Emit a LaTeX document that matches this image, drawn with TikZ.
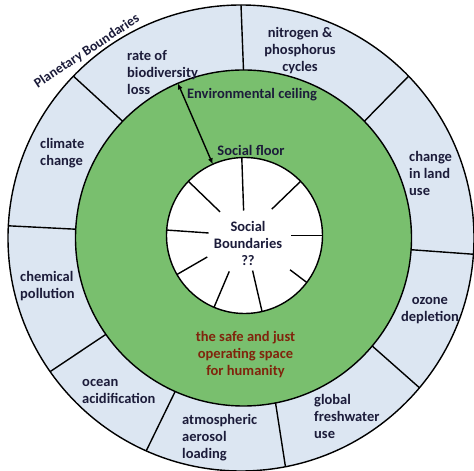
\documentclass[tikz,border=0pt]{standalone}
\usepackage{fontspec}
\setmainfont{Carlito}
\usetikzlibrary{arrows.meta}
\definecolor{ringblue}{RGB}{220,230,242}
\definecolor{floorgreen}{RGB}{121,191,110}
\definecolor{labelink}{RGB}{28,28,58}
\definecolor{spacered}{RGB}{128,36,12}
\tikzstyle{ring} = [circle, draw, line width=1.4pt, inner sep=0pt, outer sep=0pt]
\tikzstyle{pb} = [text=labelink, font=\bfseries\fontsize{14.5}{17}\selectfont, inner sep=0pt]
\tikzstyle{pbl} = [pb, align=left, anchor=west]
\tikzstyle{pbc} = [pb, align=center]
\tikzstyle{cut} = [line width=1.4pt]

\begin{document}
\begin{tikzpicture}[x=1pt,y=1pt]
  \useasboundingbox (0,0) rectangle (474,471);

  % the three rings
  \node[ring, fill=ringblue, minimum size=466pt] (outer) at (241,233) {};
  \node[ring, fill=floorgreen, minimum size=336pt] (green) at (243.5,233) {};
  \node[ring, fill=white, minimum size=156pt] (white) at (244.5,235.5) {};

  % planetary boundaries
  \draw[cut] (green.90) -- (outer.90);
  \draw[cut] (green.44) -- (outer.44);
  \draw[cut] (green.-4) -- (outer.-4);
  \draw[cut] (green.-40) -- (outer.-40);
  \draw[cut] (green.-79) -- (outer.-79);
  \draw[cut] (green.-114) -- (outer.-114);
  \draw[cut] (green.-145) -- (outer.-145);
  \draw[cut] (green.177) -- (outer.177);
  \draw[cut] (green.136) -- (outer.136);

  % social boundaries
  \draw[cut] (white.92) -- ++(272:53);
  \draw[cut] (white.44) -- ++(224:40);
  \draw[cut] (white.0) -- ++(180:32);
  \draw[cut] (white.-37) -- ++(143:21);
  \draw[cut] (white.-77) -- ++(103:42);
  \draw[cut] (white.-113) -- ++(67:39);
  \draw[cut] (white.-150) -- ++(30:35);
  \draw[cut] (white.176) -- ++(-4:42);
  \draw[cut] (white.136) -- ++(-44:44);

  \draw[cut, {Latex[length=6pt,width=5pt]}-{Latex[length=6pt,width=5pt]}] (green.113) -- (white.114.5);

  \node[pb, font=\bfseries\fontsize{13.8}{17}\selectfont, anchor=base, rotate=33.5] (title) at (89,416.4) {Planetary Boundaries};

  \node[pbl] (biodiv) at (127,398) {rate of\\biodiversity\\loss};
  \node[pbc] (nitro) at (300,420) {nitrogen \&\\phosphorus\\cycles};
  \node[pbl] (land) at (409,298) {change\\in land\\use};
  \node[pbc] (ozone) at (430,160) {ozone\\depletion};
  \node[pbl] (water) at (314,55) {global\\freshwater\\use};
  \node[pbl] (aerosol) at (182,33) {atmospheric\\aerosol\\loading};
  \node[pbl] (ocean) at (82,80) {ocean\\acidification};
  \node[pbl] (chem) at (20,185) {chemical\\pollution};
  \node[pbl] (climate) at (40,317.5) {climate\\change};

  \node[pb] (ceiling) at (252,376) {Environmental ceiling};
  \node[pb] (floor) at (251,321) {Social floor};
  \node[pbc] (social) at (248,228) {Social\\Boundaries\\??};
  \node[pbc, text=spacered] (space) at (245.5,116) {the safe and just\\operating space\\for humanity};
\end{tikzpicture}
\end{document}
